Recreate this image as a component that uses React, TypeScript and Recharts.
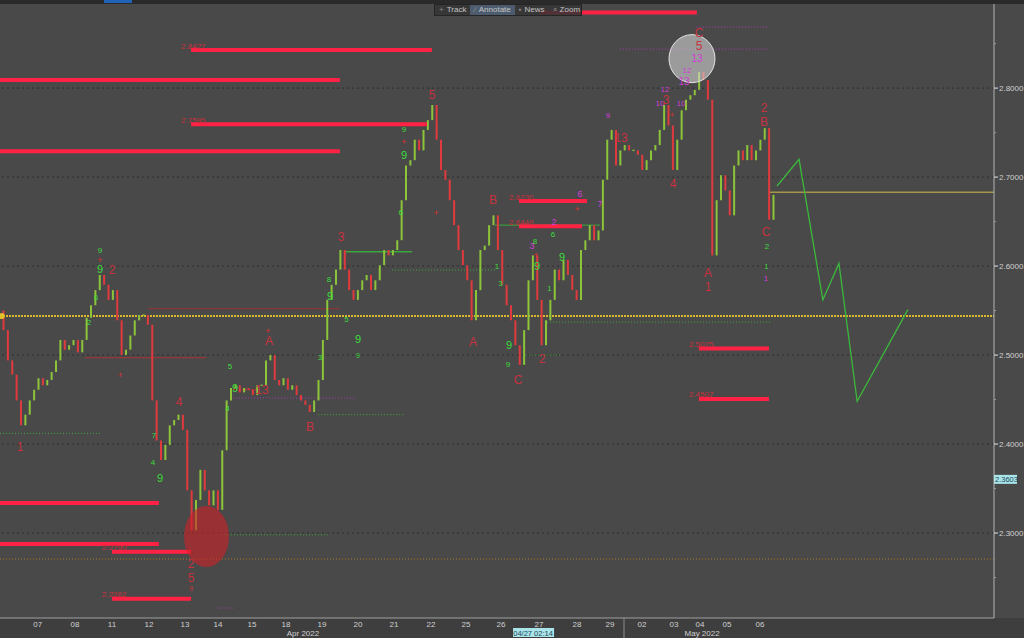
import React from "react";
import {
  ComposedChart,
  ErrorBar,
  Line,
  ReferenceLine,
  Scatter,
  XAxis,
  YAxis,
} from "recharts";

const FONT = "'Liberation Sans', Arial, sans-serif";
const UP = "#8cc43a";
const DOWN = "#e03a3e";
const WAVE = "#c8323f";
const TD_GREEN = "#3ade3a";
const TD_PINK = "#d23cd6";

// closes, eight bars per session, 7 Apr -> 6 May 2022
const firstOpen = 2.55;
const closes = [
  2.528, 2.494, 2.478, 2.449, 2.421, 2.433, 2.449, 2.461, 2.474, 2.466,
  2.472, 2.481, 2.494, 2.517, 2.506, 2.511, 2.517, 2.503, 2.517, 2.542,
  2.556, 2.573, 2.59, 2.579, 2.562, 2.573, 2.539, 2.5, 2.506, 2.522,
  2.539, 2.545, 2.545, 2.534, 2.449, 2.404, 2.382, 2.399, 2.421, 2.427,
  2.433, 2.416, 2.348, 2.303, 2.337, 2.371, 2.348, 2.331, 2.348, 2.326,
  2.393, 2.449, 2.463, 2.466, 2.458, 2.463, 2.461, 2.455, 2.466, 2.466,
  2.494, 2.5, 2.472, 2.466, 2.474, 2.461, 2.466, 2.455, 2.449, 2.444,
  2.436, 2.449, 2.472, 2.517, 2.562, 2.579, 2.596, 2.618, 2.596, 2.573,
  2.562, 2.573, 2.584, 2.59, 2.573, 2.584, 2.601, 2.618, 2.612, 2.618,
  2.629, 2.674, 2.713, 2.719, 2.742, 2.73, 2.753, 2.764, 2.781, 2.742,
  2.708, 2.697, 2.674, 2.646, 2.618, 2.601, 2.584, 2.539, 2.573, 2.618,
  2.623, 2.646, 2.657, 2.618, 2.579, 2.556, 2.539, 2.511, 2.489, 2.528,
  2.584, 2.612, 2.562, 2.511, 2.539, 2.562, 2.596, 2.584, 2.607, 2.59,
  2.573, 2.562, 2.618, 2.629, 2.646, 2.629, 2.64, 2.697, 2.742, 2.753,
  2.713, 2.73, 2.736, 2.73, 2.73, 2.725, 2.708, 2.719, 2.73, 2.736,
  2.753, 2.781, 2.758, 2.708, 2.742, 2.775, 2.787, 2.792, 2.798, 2.818,
  2.809, 2.787, 2.612, 2.674, 2.702, 2.685, 2.657, 2.713, 2.73, 2.719,
  2.736, 2.719, 2.73, 2.742, 2.755, 2.652, 2.68,
];
const T0 = 0.1;
const DT = 0.125;

const dayLabels = [
  "07", "08", "11", "12", "13", "14", "15", "18", "19", "20", "21",
  "22", "25", "26", "27", "28", "29", "02", "03", "04", "05", "06",
];
const dayPositions = [
  1.077, 2.143, 3.2, 4.257, 5.286, 6.229, 7.2, 8.171, 9.2, 10.229, 11.257,
  12.314, 13.314, 14.314, 15.4, 16.486, 17.429, 18.343, 19.257, 20, 20.771, 21.714,
];
const monthLabels = ["Apr 2022", "May 2022"];
const monthPositions = [8.657, 20.06];
const monthBreak = 17.829;
const cursorTime = 15.23;
const cursorText = "04/27 02:14";

const majorPrices = [2.3, 2.4, 2.5, 2.6, 2.7, 2.8];
const minorPrices = [2.25, 2.35, 2.45, 2.55, 2.65, 2.75, 2.85];
const lastPrice = 2.3603;

const forecastX = [22.2, 22.83, 23.51, 23.97, 24.49, 25.94];
const forecastY = [2.69, 2.72, 2.562, 2.603, 2.448, 2.551];

// [price, from, to, label]
const redLevels: [number, number, number, string][] = [
  [2.885, 15.43, 19.91, ""],
  [2.8427, 5.46, 12.34, "2.8427"],
  [2.809, 0, 9.71, ""],
  [2.7595, 5.46, 12.2, "2.7595"],
  [2.729, 0, 9.71, ""],
  [2.673, 14.83, 16.77, "2.6730"],
  [2.6448, 14.83, 16.63, "2.6448"],
  [2.5075, 19.97, 21.97, "2.5075"],
  [2.4507, 19.97, 21.97, "2.4507"],
  [2.3337, 0, 4.54, ""],
  [2.2876, 0, 4.54, ""],
  [2.279, 3.2, 5.46, "2.2790"],
  [2.2262, 3.2, 5.46, "2.2262"],
];

// [price, from, to, colour, dash, width]
const guideLines: [number, number, number, string, string, number][] = [
  [2.5438, 0, 28.4, "#d9b82c", "2 1", 2],
  [2.2708, 0, 28.4, "#b07a22", "1 2", 1],
  [2.683, 22.0, 28.4, "#a69648", "", 1.5],
  [2.412, 0, 2.86, "#3aa83a", "1 2", 1],
  [2.298, 6.34, 9.37, "#3aa83a", "1 2", 1],
  [2.616, 9.83, 11.77, "#3aa83a", "", 1.5],
  [2.5955, 11.2, 14.2, "#3aa83a", "1 2", 1],
  [2.537, 15.63, 22.0, "#3aa83a", "1 2", 1],
  [2.5, 15.03, 16.03, "#3aa83a", "1 2", 1],
  [2.646, 14.14, 17.14, "#3aa83a", "", 1],
  [2.433, 9.09, 11.57, "#3aa83a", "1 2", 1],
  [2.4517, 6.66, 10.14, "#a83ab0", "1 2", 1],
  [2.8438, 17.71, 21.97, "#a83ab0", "1 2", 1],
  [2.8685, 19.91, 21.97, "#a83ab0", "1 2", 1],
  [2.2157, 6.23, 6.71, "#a83ab0", "1 2", 1],
  [2.497, 2.43, 5.89, "#b03034", "", 1],
  [2.552, 4.23, 9.71, "#9a3034", "", 1],
  [2.461, 6.66, 7.43, "#d03034", "2 1", 1],
];

// [time, price, text, colour, size]
const waveLabels: [number, number, string, string, number][] = [
  [0.571, 2.3966, "1", WAVE, 12],
  [3.2, 2.5955, "2", WAVE, 12],
  [5.114, 2.4472, "4", WAVE, 12],
  [7.686, 2.5157, "A", WAVE, 12],
  [8.857, 2.4191, "B", WAVE, 12],
  [7.486, 2.4607, "13", WAVE, 12],
  [9.743, 2.6326, "3", WAVE, 12],
  [12.343, 2.7921, "5", WAVE, 12],
  [13.514, 2.5146, "A", WAVE, 12],
  [14.086, 2.6742, "B", WAVE, 12],
  [14.8, 2.4719, "C", WAVE, 12],
  [15.486, 2.4955, "2", WAVE, 12],
  [17.743, 2.7438, "13", WAVE, 12],
  [19.029, 2.7865, "3", WAVE, 12],
  [19.229, 2.6921, "4", WAVE, 12],
  [19.971, 2.8618, "C", WAVE, 12],
  [19.971, 2.8472, "5", WAVE, 12],
  [20.229, 2.5921, "A", WAVE, 12],
  [20.229, 2.5764, "1", WAVE, 12],
  [21.829, 2.7775, "2", WAVE, 12],
  [21.829, 2.7618, "B", WAVE, 12],
  [21.886, 2.638, "C", WAVE, 12],
  [5.457, 2.2652, "2", WAVE, 12],
  [5.457, 2.2494, "5", WAVE, 12],
  [5.457, 2.238, "9", WAVE, 7],
];

const tdCounts: [number, number, string, string, number][] = [
  [19.914, 2.8337, "13", TD_PINK, 10],
  [19.629, 2.8202, "12", TD_PINK, 8],
  [19.543, 2.8079, "13", TD_PINK, 10],
  [19.0, 2.7989, "12", TD_PINK, 8],
  [18.857, 2.7831, "10", TD_PINK, 8],
  [19.457, 2.7831, "10", TD_PINK, 8],
  [17.371, 2.7697, "9", TD_PINK, 8],
  [15.2, 2.6225, "3", TD_PINK, 9],
  [15.829, 2.6494, "2", TD_PINK, 9],
  [16.571, 2.6815, "6", TD_PINK, 9],
  [17.143, 2.6697, "7", TD_PINK, 9],
  [21.886, 2.5865, "1", TD_PINK, 8],
  [2.857, 2.6175, "9", TD_GREEN, 8],
  [2.857, 2.5966, "9", TD_GREEN, 11],
  [2.743, 2.5652, "6", TD_GREEN, 8],
  [2.543, 2.5371, "2", TD_GREEN, 8],
  [4.571, 2.3618, "9", TD_GREEN, 11],
  [4.371, 2.3798, "4", TD_GREEN, 8],
  [4.4, 2.41, "7", TD_GREEN, 8],
  [6.571, 2.4876, "5", TD_GREEN, 8],
  [6.714, 2.4629, "9", TD_GREEN, 11],
  [6.5, 2.44, "4", TD_GREEN, 8],
  [9.143, 2.4978, "3", TD_GREEN, 8],
  [10.229, 2.518, "9", TD_GREEN, 11],
  [10.229, 2.5, "9", TD_GREEN, 7],
  [9.429, 2.5663, "9", TD_GREEN, 11],
  [9.4, 2.585, "8", TD_GREEN, 8],
  [9.9, 2.54, "5", TD_GREEN, 8],
  [11.543, 2.7535, "9", TD_GREEN, 8],
  [11.543, 2.7245, "9", TD_GREEN, 11],
  [11.45, 2.66, "6", TD_GREEN, 8],
  [14.543, 2.5112, "9", TD_GREEN, 11],
  [14.514, 2.4899, "9", TD_GREEN, 8],
  [14.2, 2.6, "1", TD_GREEN, 8],
  [14.3, 2.58, "3", TD_GREEN, 8],
  [15.286, 2.6281, "8", TD_GREEN, 8],
  [15.343, 2.6, "9", TD_GREEN, 11],
  [16.057, 2.6101, "9", TD_GREEN, 11],
  [15.8, 2.635, "6", TD_GREEN, 8],
  [15.7, 2.575, "1", TD_GREEN, 8],
  [21.914, 2.622, "2", TD_GREEN, 8],
  [21.9, 2.6, "1", TD_GREEN, 7],
];

const plusMarks: [number, number][] = [
  [3.43, 2.478], [2.857, 2.607], [7.657, 2.527], [11.543, 2.739],
  [15.314, 2.612], [12.46, 2.66], [16.49, 2.664], [19.2, 2.77],
];

// [time, price, rx, ry, fill, stroke]
const highlights: [number, number, number, number, string, string][] = [
  [19.771, 2.8331, 23, 24, "rgba(222,222,222,0.55)", "#e4e4e4"],
  [5.9, 2.2961, 22.5, 30.5, "rgba(205,32,38,0.6)", "none"],
  [0.05, 2.5438, 3, 3, "#e2c22a", "none"],
];

// candle bodies drawn as vertical error bars around the body midpoint
const candles = closes.map((c, i) => {
  const o = i === 0 ? firstOpen : closes[i - 1];
  return { x: T0 + i * DT, y: (o + c) / 2, err: Math.max(Math.abs(c - o) / 2, 0.0008), up: c >= o };
});
const upCandles = candles.filter((d) => d.up);
const downCandles = candles.filter((d) => !d.up);
const forecast = forecastX.map((x, i) => ({ x, y: forecastY[i] }));
const toMarks = (rows: [number, number, string, string, number][]) =>
  rows.map(([x, y, text, color, size]) => ({ x, y, text, color, size }));
const levelTags = redLevels.filter((r) => r[3]).map(([y, from, , text]) => ({ x: from, y, text }));

const NoShape = () => <g />;

const TextMark = (props: any) => {
  const { cx, cy, payload } = props;
  return (
    <text x={cx} y={cy} textAnchor="middle" dominantBaseline="central" fill={payload.color}
      fontSize={payload.size} fontFamily={FONT}>
      {payload.text}
    </text>
  );
};

const LevelTag = (props: any) => {
  const { cx, cy, payload } = props;
  return (
    <text x={cx - 10} y={cy - 1.5} fill="#c8303c" fontSize={8} fontFamily={FONT}>
      {payload.text}
    </text>
  );
};

const PlusMark = (props: any) => (
  <text x={props.cx} y={props.cy} textAnchor="middle" dominantBaseline="central" fill="#d83030"
    fontSize={9} fontFamily={FONT}>+</text>
);

const Blob = (props: any) => {
  const { cx, cy, payload } = props;
  return <ellipse cx={cx} cy={cy} rx={payload.rx} ry={payload.ry} fill={payload.fill} stroke={payload.stroke} />;
};

const renderXTick = (props: any) => {
  const { x, y, payload } = props;
  const v = payload.value;
  const di = dayPositions.indexOf(v);
  if (di >= 0)
    return <text x={x} y={y + 9} textAnchor="middle" fill="#d0d0d0" fontSize={8} fontFamily={FONT}>{dayLabels[di]}</text>;
  const mi = monthPositions.indexOf(v);
  if (mi >= 0)
    return <text x={x} y={y + 18} textAnchor="middle" fill="#d0d0d0" fontSize={8} fontFamily={FONT}>{monthLabels[mi]}</text>;
  if (v === monthBreak) return <line x1={x} x2={x} y1={y} y2={y + 20} stroke="#8c8c8c" />;
  if (v === cursorTime)
    return (
      <g>
        <rect x={x - 20} y={y + 10} width={41} height={9} fill="#a8e4e8" />
        <text x={x} y={y + 17.5} textAnchor="middle" fill="#24465a" fontSize={7.5} fontFamily={FONT}>{cursorText}</text>
      </g>
    );
  return <g />;
};

const renderYTick = (props: any) => {
  const { x, y, payload } = props;
  const v = payload.value;
  if (v === lastPrice)
    return (
      <g>
        <rect x={x} y={y - 4.5} width={23} height={9} fill="#a8e4e8" />
        <text x={x + 1} y={y + 3} fill="#24465a" fontSize={7.5} fontFamily={FONT}>{v.toFixed(4)}</text>
      </g>
    );
  const major = majorPrices.includes(v);
  return (
    <g>
      <line x1={x} x2={x + (major ? 4 : 2)} y1={y} y2={y} stroke={major ? "#e6e6e6" : "#9a9a9a"} />
      {major && (
        <text x={x + 5} y={y + 3} fill="#d0d0d0" fontSize={8} fontFamily={FONT}>{v.toFixed(4)}</text>
      )}
    </g>
  );
};

function Toolbar() {
  const item: React.CSSProperties = { padding: "0 4px", display: "flex", alignItems: "center", gap: 3 };
  return (
    <div
      style={{
        position: "absolute", left: 434, top: 4, width: 148, height: 12, display: "flex",
        background: "rgba(52,52,52,0.85)", border: "1px solid #252525", boxSizing: "border-box",
        fontFamily: FONT, fontSize: 8, color: "#c4c4c4", lineHeight: "10px",
      }}
    >
      <div style={item}><span style={{ color: "#888" }}>+</span>Track</div>
      <div style={{ ...item, background: "#4d5b6e" }}><span style={{ color: "#999" }}>⁄</span>Annotate</div>
      <div style={item}><span style={{ color: "#888" }}>▪</span>News</div>
      <div style={item}><span style={{ color: "#888" }}>⌕</span>Zoom</div>
    </div>
  );
}

export default function App() {
  return (
    <div style={{ position: "fixed", left: 0, top: 0, width: 1024, height: 638, background: "#494949", overflow: "hidden" }}>
      <div style={{ position: "absolute", left: 0, top: 618, width: 1024, height: 20, background: "#3e3e3e" }} />
      <div style={{ position: "absolute", left: 0, top: 0 }}>
        <ComposedChart width={1024} height={638} margin={{ top: 0, right: 0, bottom: 0, left: 0 }}>
          <XAxis
            dataKey="x" type="number" domain={[0, 28.4]} allowDataOverflow height={20}
            ticks={[...dayPositions, ...monthPositions, monthBreak, cursorTime]} interval={0}
            tick={renderXTick} tickLine={false} tickSize={0} tickMargin={0}
            axisLine={{ stroke: "#a0a0a0" }}
          />
          <YAxis
            type="number" orientation="right" domain={[2.2045, 2.899]} allowDataOverflow width={30}
            ticks={[...majorPrices, ...minorPrices, lastPrice]} interval={0}
            tick={renderYTick} tickLine={false} tickSize={0} tickMargin={0}
            axisLine={{ stroke: "#b4b4b4" }}
          />
          {majorPrices.map((p) => (
            <ReferenceLine key={"g" + p} y={p} stroke="#2e2e2e" strokeDasharray="2 3" />
          ))}
          {guideLines.map(([p, a, b, color, dash, w], i) => (
            <ReferenceLine key={"l" + i} segment={[{ x: a, y: p }, { x: b, y: p }]}
              stroke={color} strokeDasharray={dash || undefined} strokeWidth={w} />
          ))}
          <Scatter data={upCandles} dataKey="y" shape={NoShape} isAnimationActive={false}>
            <ErrorBar dataKey="err" direction="y" width={0} stroke={UP} strokeWidth={2} isAnimationActive={false} />
          </Scatter>
          <Scatter data={downCandles} dataKey="y" shape={NoShape} isAnimationActive={false}>
            <ErrorBar dataKey="err" direction="y" width={0} stroke={DOWN} strokeWidth={2} isAnimationActive={false} />
          </Scatter>
          {redLevels.map(([p, a, b], i) => (
            <ReferenceLine key={"r" + i} segment={[{ x: a, y: p }, { x: b, y: p }]}
              stroke="#ff2244" strokeWidth={4} />
          ))}
          <Line data={forecast} dataKey="y" type="linear" stroke="#3cb83c" strokeWidth={1.3}
            dot={false} isAnimationActive={false} />
          <Scatter
            data={highlights.map(([x, y, rx, ry, fill, stroke]) => ({ x, y, rx, ry, fill, stroke }))}
            dataKey="y" shape={Blob} isAnimationActive={false}
          />
          <Scatter data={plusMarks.map(([x, y]) => ({ x, y }))} dataKey="y" shape={PlusMark} isAnimationActive={false} />
          <Scatter data={levelTags} dataKey="y" shape={LevelTag} isAnimationActive={false} />
          <Scatter data={toMarks(tdCounts)} dataKey="y" shape={TextMark} isAnimationActive={false} />
          <Scatter data={toMarks(waveLabels)} dataKey="y" shape={TextMark} isAnimationActive={false} />
        </ComposedChart>
      </div>
      <div style={{ position: "absolute", left: 0, top: 0, width: 1024, height: 4, background: "#2a2a2a" }} />
      <div style={{ position: "absolute", left: 104, top: 0, width: 28, height: 3, background: "#1f62b8" }} />
      <Toolbar />
    </div>
  );
}
